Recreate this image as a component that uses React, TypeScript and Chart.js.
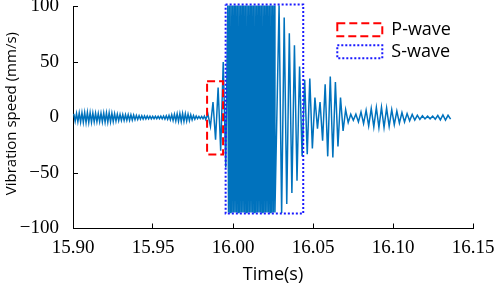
import React, { useEffect, useRef } from 'react';
import { Chart, registerables } from 'chart.js';

Chart.register(...registerables);

// Axis ticks
const xTicks = [15.9, 15.95, 16.0, 16.05, 16.1, 16.15];
const yTicks = [-100, -50, 0, 50, 100];

// Vibration record, read as successive peaks (mm/s)
// Background before the P-wave
const preStart = 15.9005;
const preStep = 0.00085;
const preValues = [
  3.2, -3.4, 3.6, -3.8, 4.0, -4.2, 4.3, -4.4, 4.5, -4.6, 4.6, -4.5, 4.4, -4.3, 4.1, -3.9,
  3.8, -3.7, 3.6, -3.7, 3.8, -3.9, 4.0, -4.1, 4.2, -4.2, 4.1, -4.0, 3.8, -3.6, 3.4, -3.2,
  3.0, -2.8, 2.7, -2.6, 2.6, -2.6, 2.5, -2.5, 2.6, -2.5, 2.5, -2.3, 2.2, -2.0, 1.9, -1.8,
  1.7, -1.6, 1.5, -1.4, 1.4, -1.3, 1.3, -1.2, 1.2, -1.2, 1.1, -1.1, 1.1, -1.1, 1.1, -1.1,
  1.2, -1.2, 1.3, -1.4, 1.5, -1.7, 1.9, -2.1, 2.4, -2.7, 2.9, -3.1, 3.3, -3.4, 3.5, -3.6,
  3.6, -3.5, 3.4, -3.2, 3.0, -2.7, 2.4, -2.1, 1.8, -1.5, 1.3, -1.1, 1.0, -1.0, 1.0, -1.1,
  1.3, -1.8,
];

// P-wave onset
const pStart = 15.9843;
const pStep = 0.0016;
const pValues = [3, -8, 14, -20, 27, -30, 50, -45];

// S-wave main burst
const sStart = 15.9967;
const sStep = 0.0005;
const sValues = [
  101, -85.5, 101, -85.5, 101, -85.5, 101, -85.5, 101, -85.5, 101, -85.5, 101, -85.5,
  101, -85.5, 101, -85.5, 101, -85.5, 101, -85.5, 101, -85.5, 101, -85.5, 101, -85.5,
  101, -85.5, 101, -85.5, 101, -85.5, 101, -85.5, 101, -85.5, 101, -85.5, 101, -85.5,
  101, -85.5, 101, -85.5, 101, -85.5, 101, -85.5, 101, -85.5, 101, -85.5, 101, -85.5,
  101, -85.5, 101, -85.5,
];

// Decay / coda
const postStart = 16.0288;
const postStep = 0.0016;
const postValues = [
  101, -86, 90, -78, 76, -68, 65, -57, 46, -35, 34, -33, 35, -28, 18, -10,
  14, -21, 30, -35, 37, -36, 32, -26, 18, -12, 7, -4.5, 3, -2.5, 3, -4,
  5, -5.5, 6.5, -7.5, 8, -8.5, 9, -9, 9.2, -9, 8.5, -8, 7, -6.5, 5.8, -5,
  4.5, -4, 3.5, -3, 2.7, -2.3, 2, -1.8, 1.5, -1.3, 1.2, -1.2, 1.3, -1.5,
  1.8, -2.2, 2.4, -2.3, 2.0, -1.5,
];

// Marked wave windows
const seriesNames = ['P-wave', 'S-wave'];
const pBoxTime = [15.9838, 15.9938];
const pBoxSpeed = [-33.3, 32.7];
const sBoxTime = [15.9954, 16.0439];
const sBoxSpeed = [-86.5, 101.8];

function segment(start: number, step: number, values: number[]) {
  return values.map((v, i) => ({ x: start + i * step, y: v }));
}

function rect(t: number[], v: number[]) {
  return [
    { x: t[0], y: v[1] },
    { x: t[1], y: v[1] },
    { x: t[1], y: v[0] },
    { x: t[0], y: v[0] },
    { x: t[0], y: v[1] },
  ];
}

const legendPlacer = {
  id: 'legendPlacer',
  afterLayout(chart: any) {
    const lg = chart.legend;
    if (!lg) return;
    lg.left = 333.3;
    lg.top = 16.8;
    lg.right = 492;
    lg.bottom = 200;
    lg.width = lg.right - lg.left;
    lg.height = lg.bottom - lg.top;
  },
};

export default function App() {
  const ref = useRef<HTMLCanvasElement | null>(null);

  useEffect(() => {
    if (!ref.current) return;
    const signal = [
      ...segment(preStart, preStep, preValues),
      ...segment(pStart, pStep, pValues),
      ...segment(sStart, sStep, sValues),
      ...segment(postStart, postStep, postValues),
    ];
    const tickFont = { family: 'Liberation Serif', size: 19 };
    const chart = new Chart(ref.current, {
      type: 'line',
      data: {
        datasets: [
          {
            label: seriesNames[0],
            data: rect(pBoxTime, pBoxSpeed),
            borderColor: '#ff0000',
            backgroundColor: 'rgba(255,255,255,0)',
            borderWidth: 2,
            borderDash: [8, 4],
            pointRadius: 0,
            fill: false,
            tension: 0,
            clip: false as any,
          },
          {
            label: seriesNames[1],
            data: rect(sBoxTime, sBoxSpeed),
            borderColor: '#1a1aff',
            backgroundColor: 'rgba(255,255,255,0)',
            borderWidth: 2,
            borderDash: [2, 2],
            pointRadius: 0,
            fill: false,
            tension: 0,
            clip: false as any,
          },
          {
            label: 'signal',
            data: signal,
            borderColor: '#0072bd',
            borderWidth: 1.5,
            pointRadius: 0,
            fill: false,
            tension: 0,
            clip: false as any,
          },
        ],
      },
      options: {
        animation: false,
        responsive: false,
        maintainAspectRatio: false,
        layout: { padding: { top: 6.5, right: 25, left: 0, bottom: 0 }, autoPadding: false },
        plugins: {
          legend: {
            position: 'chartArea' as any,
            fullSize: false,
            align: 'start',
            labels: {
              boxWidth: 45,
              boxHeight: 13,
              padding: 4,
              color: '#000',
              font: { family: 'Open Sans', size: 18 },
              filter: (item: any) => item.datasetIndex < 2,
            },
          },
          tooltip: { enabled: false },
        },
        scales: {
          x: {
            type: 'linear',
            min: 15.9,
            max: 16.15,
            afterBuildTicks: (s: any) => {
              s.ticks = xTicks.map((v) => ({ value: v }));
            },
            afterFit: (s: any) => {
              s.height = 57.5;
              s.paddingLeft = 0;
              s.paddingRight = 0;
              s.paddingTop = 0;
              s.paddingBottom = 0;
            },
            ticks: {
              callback: (v: any) => Number(v).toFixed(2),
              font: tickFont,
              color: '#000',
              padding: 13,
              maxRotation: 0,
              autoSkip: false,
            },
            grid: { drawOnChartArea: false, tickLength: -5, tickColor: '#000', tickWidth: 1 },
            border: { color: '#000', width: 1 },
            title: {
              display: true,
              text: 'Time(s)',
              color: '#000',
              font: { family: 'Open Sans', size: 18 },
              padding: { top: 0, bottom: 0 },
            },
          },
          y: {
            min: -100,
            max: 100,
            afterBuildTicks: (s: any) => {
              s.ticks = yTicks.map((v) => ({ value: v }));
            },
            afterFit: (s: any) => {
              s.width = 73;
              s.paddingLeft = 0;
              s.paddingRight = 0;
              s.paddingTop = 0;
              s.paddingBottom = 0;
            },
            ticks: {
              callback: (v: any) => (Number(v) < 0 ? '\u2212' + Math.abs(Number(v)) : String(v)),
              font: tickFont,
              color: '#000',
              padding: 19,
            },
            grid: { drawOnChartArea: false, tickLength: -5, tickColor: '#000', tickWidth: 1 },
            border: { color: '#000', width: 1 },
            title: {
              display: true,
              text: '  Vibration speed (mm/s)',
              color: '#000',
              font: { family: 'Open Sans', size: 15 },
              padding: { top: 3, bottom: 0 },
            },
          },
        },
      },
      plugins: [legendPlacer],
    });
    return () => chart.destroy();
  }, []);

  return (
    <div style={{ position: 'absolute', left: 0, top: 0, width: 498, height: 286, background: '#fff' }}>
      <canvas ref={ref} width={498} height={286} style={{ display: 'block' }} />
    </div>
  );
}
